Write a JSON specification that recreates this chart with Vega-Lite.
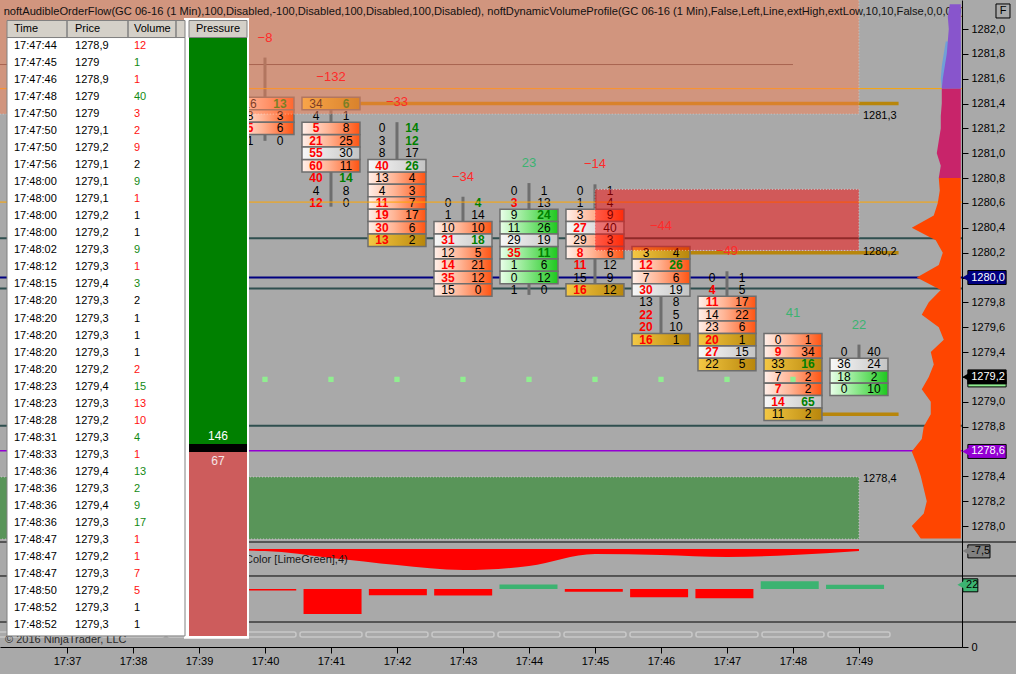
{
"$schema":"https://vega.github.io/schema/vega-lite/v6.json",
"width":962,"height":647,
"autosize":{"type":"none"},
"padding":{"left":0,"top":0,"right":54,"bottom":27},
"background":"#a9a9a9",
"config":{"view":{"stroke":null},"font":"Liberation Sans","text":{"font":"Liberation Sans"},"axis":{"grid":false,"labelFont":"Liberation Sans"}},
"datasets":{
"bars":[{"m":40,"hi":1281.77,"lo":1281.1,"d":-8},{"m":41,"hi":1281.45,"lo":1280.57,"d":-132},{"m":42,"hi":1281.25,"lo":1280.3,"d":-33},{"m":43,"hi":1280.65,"lo":1279.9,"d":-34},{"m":44,"hi":1280.76,"lo":1279.86,"d":23},{"m":45,"hi":1280.75,"lo":1279.9,"d":-14},{"m":46,"hi":1280.25,"lo":1279.5,"d":-44},{"m":47,"hi":1280.05,"lo":1279.3,"d":-49},{"m":48,"hi":1279.55,"lo":1278.9,"d":41},{"m":49,"hi":1279.46,"lo":1279.1,"d":22}],
"fp":[
{"m":40,"p":1281.4,"b":16,"a":13,"z":"sell","ai":1},{"m":40,"p":1281.3,"b":8,"a":3,"z":"sell"},{"m":40,"p":1281.2,"b":5,"a":6,"z":"sell","bi":1},{"m":40,"p":1281.1,"b":1,"a":0},
{"m":41,"p":1281.4,"b":34,"a":6,"z":"hl","ai":1},{"m":41,"p":1281.3,"b":4,"a":1},{"m":41,"p":1281.2,"b":5,"a":8,"z":"sell","bi":1},{"m":41,"p":1281.1,"b":21,"a":25,"z":"sell","bi":1},{"m":41,"p":1281.0,"b":55,"a":30,"z":"max","bi":1},{"m":41,"p":1280.9,"b":60,"a":11,"z":"sell","bi":1},{"m":41,"p":1280.8,"b":40,"a":14,"bi":1,"ai":1},{"m":41,"p":1280.7,"b":4,"a":8},{"m":41,"p":1280.6,"b":12,"a":0,"bi":1},
{"m":42,"p":1281.2,"b":0,"a":14,"ai":1},{"m":42,"p":1281.1,"b":3,"a":12,"ai":1},{"m":42,"p":1281.0,"b":8,"a":17},{"m":42,"p":1280.9,"b":40,"a":26,"z":"max","bi":1,"ai":1},{"m":42,"p":1280.8,"b":13,"a":4,"z":"sell"},{"m":42,"p":1280.7,"b":4,"a":3,"z":"sell"},{"m":42,"p":1280.6,"b":11,"a":7,"z":"sell","bi":1},{"m":42,"p":1280.5,"b":19,"a":17,"z":"sell","bi":1},{"m":42,"p":1280.4,"b":30,"a":6,"z":"sell","bi":1},{"m":42,"p":1280.3,"b":13,"a":2,"z":"hl","bi":1},
{"m":43,"p":1280.6,"b":0,"a":4,"ai":1},{"m":43,"p":1280.5,"b":1,"a":14},{"m":43,"p":1280.4,"b":10,"a":10,"z":"sell"},{"m":43,"p":1280.3,"b":31,"a":18,"z":"max","bi":1,"ai":1},{"m":43,"p":1280.2,"b":12,"a":5,"z":"sell"},{"m":43,"p":1280.1,"b":14,"a":21,"z":"sell","bi":1},{"m":43,"p":1280.0,"b":35,"a":12,"z":"sell","bi":1},{"m":43,"p":1279.9,"b":15,"a":0,"z":"sell"},
{"m":44,"p":1280.7,"b":0,"a":1},{"m":44,"p":1280.6,"b":3,"a":13,"bi":1},{"m":44,"p":1280.5,"b":9,"a":24,"z":"buy","ai":1},{"m":44,"p":1280.4,"b":11,"a":26,"z":"buy"},{"m":44,"p":1280.3,"b":29,"a":19,"z":"max"},{"m":44,"p":1280.2,"b":35,"a":11,"z":"buy","bi":1,"ai":1},{"m":44,"p":1280.1,"b":1,"a":6,"z":"buy"},{"m":44,"p":1280.0,"b":0,"a":12,"z":"buy"},{"m":44,"p":1279.9,"b":1,"a":0},
{"m":45,"p":1280.7,"b":0,"a":1},{"m":45,"p":1280.6,"b":1,"a":4},{"m":45,"p":1280.5,"b":3,"a":9,"z":"sell"},{"m":45,"p":1280.4,"b":27,"a":40,"z":"max","bi":1},{"m":45,"p":1280.3,"b":29,"a":3,"z":"sell"},{"m":45,"p":1280.2,"b":8,"a":6,"z":"sell","bi":1},{"m":45,"p":1280.1,"b":11,"a":12,"bi":1},{"m":45,"p":1280.0,"b":15,"a":9},{"m":45,"p":1279.9,"b":16,"a":12,"z":"hl","bi":1},
{"m":46,"p":1280.2,"b":3,"a":4,"z":"hl"},{"m":46,"p":1280.1,"b":12,"a":26,"z":"sell","bi":1,"ai":1},{"m":46,"p":1280.0,"b":7,"a":6,"z":"sell"},{"m":46,"p":1279.9,"b":30,"a":19,"z":"max","bi":1},{"m":46,"p":1279.8,"b":13,"a":8},{"m":46,"p":1279.7,"b":22,"a":5,"bi":1},{"m":46,"p":1279.6,"b":20,"a":10,"bi":1},{"m":46,"p":1279.5,"b":16,"a":1,"z":"hl","bi":1},
{"m":47,"p":1280.0,"b":0,"a":1},{"m":47,"p":1279.9,"b":4,"a":5,"bi":1},{"m":47,"p":1279.8,"b":11,"a":17,"z":"sell","bi":1},{"m":47,"p":1279.7,"b":14,"a":22,"z":"sell"},{"m":47,"p":1279.6,"b":23,"a":6,"z":"sell"},{"m":47,"p":1279.5,"b":20,"a":1,"z":"hl","bi":1},{"m":47,"p":1279.4,"b":27,"a":15,"z":"max","bi":1},{"m":47,"p":1279.3,"b":22,"a":5,"z":"hl"},
{"m":48,"p":1279.5,"b":0,"a":1,"z":"sell"},{"m":48,"p":1279.4,"b":9,"a":34,"z":"sell","bi":1},{"m":48,"p":1279.3,"b":33,"a":16,"z":"hl","ai":1},{"m":48,"p":1279.2,"b":7,"a":2,"z":"sell"},{"m":48,"p":1279.1,"b":7,"a":2,"z":"sell","bi":1},{"m":48,"p":1279.0,"b":14,"a":65,"z":"max","bi":1,"ai":1},{"m":48,"p":1278.9,"b":11,"a":2,"z":"hl"},
{"m":49,"p":1279.4,"b":0,"a":40},{"m":49,"p":1279.3,"b":36,"a":24,"z":"max"},{"m":49,"p":1279.2,"b":18,"a":2,"z":"buy"},{"m":49,"p":1279.1,"b":0,"a":10,"z":"buy"}],
"dots":[{"m":40,"p":1279.18},{"m":41,"p":1279.18},{"m":42,"p":1279.18},{"m":43,"p":1279.18},{"m":44,"p":1279.18},{"m":45,"p":1279.18},{"m":46,"p":1279.18},{"m":47,"p":1279.18},{"m":48,"p":1279.18}],
"zones":[{"z":"supply","from":35,"to":49,"lo":1281.315,"hi":1282.4,"edge":1281.315,"label":"1281,3"},{"z":"resistance","from":45,"to":49,"lo":1280.218,"hi":1280.71,"edge":1280.218,"label":"1280,2"},{"z":"demand","from":35,"to":49,"lo":1277.895,"hi":1278.395,"edge":1278.395,"label":"1278,4"}],
"tags":[{"p":1280.0,"label":"1280,0","k":"poc"},{"p":1279.2,"label":"1279,2","k":"last"},{"p":1278.6,"label":"1278,6","k":"low"}],
"prof":[
{"z":"ext","p":1281.9,"v":7.5},{"z":"ext","p":1281.8,"v":8.5},{"z":"ext","p":1281.7,"v":9.5},{"z":"ext","p":1281.6,"v":10},{"z":"ext","p":1281.52,"v":9.5},
{"z":"hi","p":1282.2,"v":5.5},{"z":"hi","p":1282.1,"v":6.5},{"z":"hi","p":1282.0,"v":6},{"z":"hi","p":1281.9,"v":6.5},{"z":"hi","p":1281.8,"v":7},{"z":"hi","p":1281.7,"v":8},{"z":"hi","p":1281.6,"v":9},{"z":"hi","p":1281.52,"v":9.5},
{"z":"va","p":1281.52,"v":9.5},{"z":"va","p":1281.4,"v":9.5},{"z":"va","p":1281.3,"v":10},{"z":"va","p":1281.2,"v":10},{"z":"va","p":1281.1,"v":11},{"z":"va","p":1281.0,"v":12},{"z":"va","p":1280.9,"v":10},{"z":"va","p":1280.8,"v":11},
{"z":"lo","p":1280.8,"v":11},{"z":"lo","p":1280.7,"v":10.5},{"z":"lo","p":1280.6,"v":11.5},{"z":"lo","p":1280.5,"v":13.5},{"z":"lo","p":1280.4,"v":24.5},{"z":"lo","p":1280.3,"v":12.5},{"z":"lo","p":1280.2,"v":9},{"z":"lo","p":1280.1,"v":11},{"z":"lo","p":1280.0,"v":22},{"z":"lo","p":1279.9,"v":10},{"z":"lo","p":1279.8,"v":16},{"z":"lo","p":1279.7,"v":19.5},{"z":"lo","p":1279.6,"v":11},{"z":"lo","p":1279.5,"v":8.5},{"z":"lo","p":1279.4,"v":15},{"z":"lo","p":1279.3,"v":13.5},{"z":"lo","p":1279.2,"v":16},{"z":"lo","p":1279.1,"v":19.5},{"z":"lo","p":1279.0,"v":15},{"z":"lo","p":1278.9,"v":15},{"z":"lo","p":1278.8,"v":18.5},{"z":"lo","p":1278.7,"v":19.5},{"z":"lo","p":1278.6,"v":24.5},{"z":"lo","p":1278.5,"v":22},{"z":"lo","p":1278.4,"v":20},{"z":"lo","p":1278.3,"v":18.5},{"z":"lo","p":1278.2,"v":17},{"z":"lo","p":1278.1,"v":18.5},{"z":"lo","p":1278.0,"v":24.5},{"z":"lo","p":1277.9,"v":20}],
"smooth":[{"m":39,"sd":-4},{"m":40,"sd":-8},{"m":41,"sd":-36},{"m":42,"sd":-64},{"m":43,"sd":-84},{"m":44,"sd":-68},{"m":45,"sd":-20},{"m":46,"sd":-24},{"m":47,"sd":-32},{"m":48,"sd":-24},{"m":49,"sd":-7.5}],
"slots":[{"m":36},{"m":37},{"m":38},{"m":39},{"m":40},{"m":41},{"m":42},{"m":43},{"m":44},{"m":45},{"m":46},{"m":47},{"m":48},{"m":49}],
"tape":[
{"t":"17:47:44","p":"1278,9","v":12,"s":"sell"},{"t":"17:47:45","p":"1279","v":1,"s":"buy"},{"t":"17:47:46","p":"1278,9","v":1,"s":"sell"},{"t":"17:47:48","p":"1279","v":40,"s":"buy"},{"t":"17:47:50","p":"1279","v":3,"s":"sell"},{"t":"17:47:50","p":"1279,1","v":2,"s":"sell"},{"t":"17:47:50","p":"1279,2","v":9,"s":"sell"},{"t":"17:47:56","p":"1279,1","v":2,"s":"mid"},{"t":"17:48:00","p":"1279,1","v":9,"s":"buy"},{"t":"17:48:00","p":"1279,1","v":1,"s":"sell"},{"t":"17:48:00","p":"1279,2","v":1,"s":"mid"},{"t":"17:48:00","p":"1279,2","v":1,"s":"mid"},{"t":"17:48:02","p":"1279,3","v":9,"s":"buy"},{"t":"17:48:12","p":"1279,3","v":1,"s":"sell"},{"t":"17:48:15","p":"1279,4","v":3,"s":"buy"},{"t":"17:48:20","p":"1279,3","v":2,"s":"mid"},{"t":"17:48:20","p":"1279,3","v":1,"s":"mid"},{"t":"17:48:20","p":"1279,3","v":1,"s":"mid"},{"t":"17:48:20","p":"1279,3","v":1,"s":"mid"},{"t":"17:48:20","p":"1279,2","v":2,"s":"sell"},{"t":"17:48:23","p":"1279,4","v":15,"s":"buy"},{"t":"17:48:23","p":"1279,3","v":13,"s":"sell"},{"t":"17:48:28","p":"1279,2","v":10,"s":"sell"},{"t":"17:48:31","p":"1279,3","v":4,"s":"buy"},{"t":"17:48:33","p":"1279,3","v":1,"s":"sell"},{"t":"17:48:36","p":"1279,4","v":13,"s":"buy"},{"t":"17:48:36","p":"1279,3","v":2,"s":"buy"},{"t":"17:48:36","p":"1279,4","v":9,"s":"buy"},{"t":"17:48:36","p":"1279,3","v":17,"s":"buy"},{"t":"17:48:47","p":"1279,3","v":1,"s":"sell"},{"t":"17:48:47","p":"1279,2","v":1,"s":"sell"},{"t":"17:48:47","p":"1279,3","v":7,"s":"sell"},{"t":"17:48:50","p":"1279,2","v":5,"s":"sell"},{"t":"17:48:52","p":"1279,3","v":1,"s":"mid"},{"t":"17:48:52","p":"1279,3","v":1,"s":"mid"}],
"press":[{"side":"Buy","v":146},{"side":"Sell","v":67}]
},
"resolve":{"scale":{"x":"independent","y":"independent"}},
"layer":[
{"layer":[
 {"data":{"values":[{"p":1280.315},{"p":1279.911},{"p":1278.806}]},"mark":{"type":"rule","stroke":"#2f4f4f","strokeWidth":2,"clip":true},
  "encoding":{"x":{"datum":35.9,"type":"quantitative","scale":{"domain":[35.985,50.561],"nice":false,"zero":false},"axis":null},"x2":{"datum":50.7},"y":{"field":"p","type":"quantitative","scale":{"domain":[1277.0262,1282.2334],"nice":false,"zero":false},"axis":null}}},
 {"data":{"values":[{"p":1280.0}]},"mark":{"type":"rule","stroke":"#000080","strokeWidth":2,"clip":true},
  "encoding":{"x":{"datum":35.9,"type":"quantitative","scale":{"domain":[35.985,50.561],"nice":false,"zero":false},"axis":null},"x2":{"datum":50.7},"y":{"field":"p","type":"quantitative","scale":{"domain":[1277.0262,1282.2334],"nice":false,"zero":false},"axis":null}}},
 {"data":{"values":[{"p":1278.605}]},"mark":{"type":"rule","stroke":"#9400d3","strokeWidth":1.5,"clip":true},
  "encoding":{"x":{"datum":35.9,"type":"quantitative","scale":{"domain":[35.985,50.561],"nice":false,"zero":false},"axis":null},"x2":{"datum":50.7},"y":{"field":"p","type":"quantitative","scale":{"domain":[1277.0262,1282.2334],"nice":false,"zero":false},"axis":null}}},
 {"data":{"values":[{"p":1281.714,"end":48}]},"mark":{"type":"rule","stroke":"#5a4c50","strokeWidth":1,"clip":true},
  "encoding":{"x":{"field":"end","type":"quantitative","scale":{"domain":[35.985,50.561],"nice":false,"zero":false},"axis":null},"x2":{"datum":35.9},"y":{"field":"p","type":"quantitative","scale":{"domain":[1277.0262,1282.2334],"nice":false,"zero":false},"axis":null}}},
 {"data":{"values":[{"p":1281.4,"m":41},{"p":1280.2,"m":46},{"p":1278.9,"m":48}]},"mark":{"type":"rule","stroke":"#b8860b","strokeWidth":3.5},
  "encoding":{"x":{"field":"m","type":"quantitative","scale":{"domain":[35.985,50.561],"nice":false,"zero":false},"axis":null},"x2":{"datum":49.6},"y":{"field":"p","type":"quantitative","scale":{"domain":[1277.0262,1282.2334],"nice":false,"zero":false},"axis":null}}}
]},
{"data":{"name":"bars"},"mark":{"type":"rule","stroke":"#6e6e6e","strokeWidth":3},
 "encoding":{"x":{"field":"m","type":"quantitative","scale":{"domain":[35.985,50.561],"nice":false,"zero":false},"axis":{"orient":"bottom","values":[37,38,39,40,41,42,43,44,45,46,47,48,49],"labelExpr":"'17:' + datum.value","title":null,"grid":false,"domainColor":"#000000","tickColor":"#000000","tickSize":6,"labelColor":"#000000","labelFontSize":11,"labelPadding":2,"labelFlush":false,"labelOverlap":false}},
  "y":{"field":"hi","type":"quantitative","scale":{"domain":[1277.0262,1282.2334],"nice":false,"zero":false},"axis":{"orient":"right","values":[1278,1278.2,1278.4,1278.6,1278.8,1279,1279.2,1279.4,1279.6,1279.8,1280,1280.2,1280.4,1280.6,1280.8,1281,1281.2,1281.4,1281.6,1281.8,1282],"labelExpr":"replace(format(datum.value, '.1f'), '.', ',')","title":null,"grid":false,"domainColor":"#000000","tickColor":"#000000","tickSize":6,"labelColor":"#000000","labelFontSize":11,"labelPadding":3,"labelFlush":false,"labelOverlap":false}},
  "y2":{"field":"lo"}}},
{"layer":[
 {"data":{"name":"fp"},"transform":[{"filter":"datum.z == 'sell'"}],"mark":{"type":"rect","xOffset":-29,"x2Offset":29,"yOffset":-6.2,"y2Offset":6.2,"stroke":"#6e6e6e","strokeWidth":1.5,"fill":{"gradient":"linear","stops":[{"offset":0,"color":"#fff0ea"},{"offset":0.45,"color":"#ffb596"},{"offset":1,"color":"#ff5412"}]}},
  "encoding":{"x":{"field":"m","type":"quantitative","scale":{"domain":[35.985,50.561],"nice":false,"zero":false},"axis":null},"x2":{"field":"m"},"y":{"field":"p","type":"quantitative","scale":{"domain":[1277.0262,1282.2334],"nice":false,"zero":false},"axis":null},"y2":{"field":"p"}}},
 {"data":{"name":"fp"},"transform":[{"filter":"datum.z == 'buy'"}],"mark":{"type":"rect","xOffset":-29,"x2Offset":29,"yOffset":-6.2,"y2Offset":6.2,"stroke":"#6e6e6e","strokeWidth":1.5,"fill":{"gradient":"linear","stops":[{"offset":0,"color":"#eaffea"},{"offset":0.45,"color":"#8ee88e"},{"offset":1,"color":"#1ec81e"}]}},
  "encoding":{"x":{"field":"m","type":"quantitative","scale":{"domain":[35.985,50.561],"nice":false,"zero":false},"axis":null},"x2":{"field":"m"},"y":{"field":"p","type":"quantitative","scale":{"domain":[1277.0262,1282.2334],"nice":false,"zero":false},"axis":null},"y2":{"field":"p"}}},
 {"data":{"name":"fp"},"transform":[{"filter":"datum.z == 'max'"}],"mark":{"type":"rect","xOffset":-29,"x2Offset":29,"yOffset":-6.2,"y2Offset":6.2,"stroke":"#6e6e6e","strokeWidth":1.5,"fill":{"gradient":"linear","stops":[{"offset":0,"color":"#f8f8f8"},{"offset":1,"color":"#c4c4c4"}]}},
  "encoding":{"x":{"field":"m","type":"quantitative","scale":{"domain":[35.985,50.561],"nice":false,"zero":false},"axis":null},"x2":{"field":"m"},"y":{"field":"p","type":"quantitative","scale":{"domain":[1277.0262,1282.2334],"nice":false,"zero":false},"axis":null},"y2":{"field":"p"}}},
 {"data":{"name":"fp"},"transform":[{"filter":"datum.z == 'hl'"}],"mark":{"type":"rect","xOffset":-29,"x2Offset":29,"yOffset":-6.2,"y2Offset":6.2,"stroke":"#6e6e6e","strokeWidth":1.5,"fill":{"gradient":"linear","stops":[{"offset":0,"color":"#f4c844"},{"offset":1,"color":"#b8860b"}]}},
  "encoding":{"x":{"field":"m","type":"quantitative","scale":{"domain":[35.985,50.561],"nice":false,"zero":false},"axis":null},"x2":{"field":"m"},"y":{"field":"p","type":"quantitative","scale":{"domain":[1277.0262,1282.2334],"nice":false,"zero":false},"axis":null},"y2":{"field":"p"}}},
 {"data":{"name":"fp"},"transform":[{"filter":"!datum.bi"}],"mark":{"type":"text","dx":-15,"fontSize":12,"color":"#000000","align":"center","baseline":"middle"},
  "encoding":{"x":{"field":"m","type":"quantitative","scale":{"domain":[35.985,50.561],"nice":false,"zero":false},"axis":null},"y":{"field":"p","type":"quantitative","scale":{"domain":[1277.0262,1282.2334],"nice":false,"zero":false},"axis":null},"text":{"field":"b","type":"quantitative"}}},
 {"data":{"name":"fp"},"transform":[{"filter":"datum.bi"}],"mark":{"type":"text","dx":-15,"fontSize":12,"fontWeight":"bold","color":"#ff0000","align":"center","baseline":"middle"},
  "encoding":{"x":{"field":"m","type":"quantitative","scale":{"domain":[35.985,50.561],"nice":false,"zero":false},"axis":null},"y":{"field":"p","type":"quantitative","scale":{"domain":[1277.0262,1282.2334],"nice":false,"zero":false},"axis":null},"text":{"field":"b","type":"quantitative"}}},
 {"data":{"name":"fp"},"transform":[{"filter":"!datum.ai"}],"mark":{"type":"text","dx":15,"fontSize":12,"color":"#000000","align":"center","baseline":"middle"},
  "encoding":{"x":{"field":"m","type":"quantitative","scale":{"domain":[35.985,50.561],"nice":false,"zero":false},"axis":null},"y":{"field":"p","type":"quantitative","scale":{"domain":[1277.0262,1282.2334],"nice":false,"zero":false},"axis":null},"text":{"field":"a","type":"quantitative"}}},
 {"data":{"name":"fp"},"transform":[{"filter":"datum.ai"}],"mark":{"type":"text","dx":15,"fontSize":12,"fontWeight":"bold","color":"#008000","align":"center","baseline":"middle"},
  "encoding":{"x":{"field":"m","type":"quantitative","scale":{"domain":[35.985,50.561],"nice":false,"zero":false},"axis":null},"y":{"field":"p","type":"quantitative","scale":{"domain":[1277.0262,1282.2334],"nice":false,"zero":false},"axis":null},"text":{"field":"a","type":"quantitative"}}},
 {"data":{"values":[{"p":1281.52},{"p":1280.607}]},"mark":{"type":"rule","stroke":"#ffa500","strokeWidth":1,"clip":true},
  "encoding":{"x":{"datum":35.9,"type":"quantitative","scale":{"domain":[35.985,50.561],"nice":false,"zero":false},"axis":null},"x2":{"datum":50.7},"y":{"field":"p","type":"quantitative","scale":{"domain":[1277.0262,1282.2334],"nice":false,"zero":false},"axis":null}}},
 {"data":{"name":"dots"},"mark":{"type":"square","size":28,"color":"#90ee90","opacity":1},
  "encoding":{"x":{"field":"m","type":"quantitative","scale":{"domain":[35.985,50.561],"nice":false,"zero":false},"axis":null},"y":{"field":"p","type":"quantitative","scale":{"domain":[1277.0262,1282.2334],"nice":false,"zero":false},"axis":null}}},
 {"data":{"name":"zones"},"mark":{"type":"rect","clip":true,"opacity":0.47,"stroke":"#f0f0f0","strokeDash":[1,2],"strokeWidth":1},
  "encoding":{"x":{"field":"from","type":"quantitative","scale":{"domain":[35.985,50.561],"nice":false,"zero":false},"axis":null},"x2":{"field":"to"},"y":{"field":"lo","type":"quantitative","scale":{"domain":[1277.0262,1282.2334],"nice":false,"zero":false},"axis":null},"y2":{"field":"hi"},
   "fill":{"condition":[{"test":"datum.z == 'supply'","value":"#ff7f50"},{"test":"datum.z == 'resistance'","value":"#ff0000"}],"value":"#008000"}}},
 {"data":{"name":"bars"},"mark":{"type":"text","dy":-20,"fontSize":13,"align":"center","baseline":"middle"},
  "encoding":{"x":{"field":"m","type":"quantitative","scale":{"domain":[35.985,50.561],"nice":false,"zero":false},"axis":null},"y":{"field":"hi","type":"quantitative","scale":{"domain":[1277.0262,1282.2334],"nice":false,"zero":false},"axis":null},"text":{"field":"d","type":"quantitative"},
   "color":{"condition":{"test":"datum.d < 0","value":"#ff2a2a"},"value":"#3cb371"}}},
 {"data":{"name":"zones"},"mark":{"type":"text","dx":4,"dy":2,"fontSize":11,"align":"left","baseline":"middle","color":"#000000"},
  "encoding":{"x":{"field":"to","type":"quantitative","scale":{"domain":[35.985,50.561],"nice":false,"zero":false},"axis":null},"y":{"field":"edge","type":"quantitative","scale":{"domain":[1277.0262,1282.2334],"nice":false,"zero":false},"axis":null},"text":{"field":"label","type":"nominal"}}},
 {"data":{"values":[{}]},"mark":{"type":"text","text":"noftAudibleOrderFlow(GC 06-16 (1 Min),100,Disabled,-100,Disabled,100,Disabled,100,Disabled), noftDynamicVolumeProfile(GC 06-16 (1 Min),False,Left,Line,extHigh,extLow,10,10,False,0,0,0,0)","fontSize":11.15,"align":"left","baseline":"middle","color":"#111111","clip":true},
  "encoding":{"x":{"datum":36.04,"type":"quantitative","scale":{"domain":[35.985,50.561],"nice":false,"zero":false},"axis":null},"y":{"datum":1282.137,"type":"quantitative","scale":{"domain":[1277.0262,1282.2334],"nice":false,"zero":false},"axis":null}}},
 {"data":{"name":"tags"},"transform":[{"filter":"datum.k == 'last'"}],"mark":{"type":"rect","yOffset":-3,"y2Offset":10,"fill":"#90ee90","stroke":"#000000","strokeWidth":1},
  "encoding":{"x":{"datum":50.65,"type":"quantitative","scale":{"domain":[35.985,50.561],"nice":false,"zero":false},"axis":null},"x2":{"datum":51.23},"y":{"field":"p","type":"quantitative","scale":{"domain":[1277.0262,1282.2334],"nice":false,"zero":false},"axis":null},"y2":{"field":"p"}}},
 {"data":{"name":"tags"},"mark":{"type":"rect","yOffset":-7,"y2Offset":7,"stroke":"#000000","strokeWidth":1},
  "encoding":{"x":{"datum":50.65,"type":"quantitative","scale":{"domain":[35.985,50.561],"nice":false,"zero":false},"axis":null},"x2":{"datum":51.23},"y":{"field":"p","type":"quantitative","scale":{"domain":[1277.0262,1282.2334],"nice":false,"zero":false},"axis":null},"y2":{"field":"p"},
   "fill":{"condition":[{"test":"datum.k == 'poc'","value":"#000080"},{"test":"datum.k == 'low'","value":"#9400d3"}],"value":"#000000"}}},
 {"data":{"name":"tags"},"mark":{"type":"point","shape":"triangle-left","size":90,"filled":true,"opacity":1},
  "encoding":{"x":{"datum":50.627,"type":"quantitative","scale":{"domain":[35.985,50.561],"nice":false,"zero":false},"axis":null},"y":{"field":"p","type":"quantitative","scale":{"domain":[1277.0262,1282.2334],"nice":false,"zero":false},"axis":null},
   "color":{"condition":[{"test":"datum.k == 'poc'","value":"#000080"},{"test":"datum.k == 'low'","value":"#9400d3"}],"value":"#000000"}}},
 {"data":{"name":"tags"},"mark":{"type":"text","fontSize":11,"align":"left","baseline":"middle","color":"#ffffff"},
  "encoding":{"x":{"datum":50.7,"type":"quantitative","scale":{"domain":[35.985,50.561],"nice":false,"zero":false},"axis":null},"y":{"field":"p","type":"quantitative","scale":{"domain":[1277.0262,1282.2334],"nice":false,"zero":false},"axis":null},"text":{"field":"label","type":"nominal"}}},
 {"data":{"values":[{}]},"mark":{"type":"square","size":196,"filled":false,"stroke":"#000000","strokeWidth":1,"opacity":1},
  "encoding":{"x":{"datum":51.182,"type":"quantitative","scale":{"domain":[35.985,50.561],"nice":false,"zero":false},"axis":null},"y":{"datum":1282.145,"type":"quantitative","scale":{"domain":[1277.0262,1282.2334],"nice":false,"zero":false},"axis":null}}},
 {"data":{"values":[{}]},"mark":{"type":"text","text":"F","fontSize":11,"align":"center","baseline":"middle","color":"#000000"},
  "encoding":{"x":{"datum":51.182,"type":"quantitative","scale":{"domain":[35.985,50.561],"nice":false,"zero":false},"axis":null},"y":{"datum":1282.145,"type":"quantitative","scale":{"domain":[1277.0262,1282.2334],"nice":false,"zero":false},"axis":null}}}
]},
{"layer":[
 {"data":{"name":"prof"},"transform":[{"filter":"datum.z == 'ext'"}],"mark":{"type":"area","orient":"horizontal","color":"#6fa0d8","opacity":1},
  "encoding":{"y":{"field":"p","type":"quantitative","scale":{"domain":[1277.0262,1282.2334],"nice":false,"zero":false},"axis":null},"x":{"field":"v","type":"quantitative","stack":null,"scale":{"domain":[-0.6,480],"reverse":true,"nice":false,"zero":false},"axis":null},"x2":{"datum":0}}},
 {"data":{"name":"prof"},"transform":[{"filter":"datum.z == 'hi'"}],"mark":{"type":"area","orient":"horizontal","color":"#8855cc","opacity":1},
  "encoding":{"y":{"field":"p","type":"quantitative","scale":{"domain":[1277.0262,1282.2334],"nice":false,"zero":false},"axis":null},"x":{"field":"v","type":"quantitative","stack":null,"scale":{"domain":[-0.6,480],"reverse":true,"nice":false,"zero":false},"axis":null},"x2":{"datum":0}}},
 {"data":{"name":"prof"},"transform":[{"filter":"datum.z == 'va'"}],"mark":{"type":"area","orient":"horizontal","color":"#c8246a","opacity":1},
  "encoding":{"y":{"field":"p","type":"quantitative","scale":{"domain":[1277.0262,1282.2334],"nice":false,"zero":false},"axis":null},"x":{"field":"v","type":"quantitative","stack":null,"scale":{"domain":[-0.6,480],"reverse":true,"nice":false,"zero":false},"axis":null},"x2":{"datum":0}}},
 {"data":{"name":"prof"},"transform":[{"filter":"datum.z == 'lo'"}],"mark":{"type":"area","orient":"horizontal","color":"#ff4500","opacity":1},
  "encoding":{"y":{"field":"p","type":"quantitative","scale":{"domain":[1277.0262,1282.2334],"nice":false,"zero":false},"axis":null},"x":{"field":"v","type":"quantitative","stack":null,"scale":{"domain":[-0.6,480],"reverse":true,"nice":false,"zero":false},"axis":null},"x2":{"datum":0}}}
]},
{"layer":[
 {"data":{"values":[{}]},"mark":{"type":"rule","stroke":"#000000","strokeWidth":1},
  "encoding":{"x":{"datum":35.9,"type":"quantitative","scale":{"domain":[35.985,50.561],"nice":false,"zero":false},"axis":null},"x2":{"datum":51.5},"y":{"datum":28,"type":"quantitative","scale":{"domain":[-392,2196],"nice":false,"zero":false},"axis":null}}},
 {"data":{"name":"smooth"},"mark":{"type":"area","orient":"vertical","interpolate":"monotone","color":"#ff0000","opacity":1},
  "encoding":{"x":{"field":"m","type":"quantitative","scale":{"domain":[35.985,50.561],"nice":false,"zero":false},"axis":null},"y":{"field":"sd","type":"quantitative","stack":null,"scale":{"domain":[-392,2196],"nice":false,"zero":false},"axis":null},"y2":{"datum":0}}},
 {"data":{"values":[{}]},"mark":{"type":"text","text":"Color [LimeGreen],4)","fontSize":11,"align":"left","baseline":"middle","color":"#1a1a1a"},
  "encoding":{"x":{"datum":39.697,"type":"quantitative","scale":{"domain":[35.985,50.561],"nice":false,"zero":false},"axis":null},"y":{"datum":-44,"type":"quantitative","scale":{"domain":[-392,2196],"nice":false,"zero":false},"axis":null}}},
 {"data":{"values":[{"v":-7.5,"label":"-7,5"}]},"mark":{"type":"rect","yOffset":-6,"y2Offset":7,"fill":"#808080","stroke":"#000000","strokeWidth":1},
  "encoding":{"x":{"datum":50.65,"type":"quantitative","scale":{"domain":[35.985,50.561],"nice":false,"zero":false},"axis":null},"x2":{"datum":50.985},"y":{"field":"v","type":"quantitative","scale":{"domain":[-392,2196],"nice":false,"zero":false},"axis":null},"y2":{"field":"v"}}},
 {"data":{"values":[{"v":-7.5,"label":"-7,5"}]},"mark":{"type":"point","shape":"triangle-left","size":80,"filled":true,"color":"#808080","opacity":1},
  "encoding":{"x":{"datum":50.627,"type":"quantitative","scale":{"domain":[35.985,50.561],"nice":false,"zero":false},"axis":null},"y":{"field":"v","type":"quantitative","scale":{"domain":[-392,2196],"nice":false,"zero":false},"axis":null}}},
 {"data":{"values":[{"v":-7.5,"label":"-7,5"}]},"mark":{"type":"text","fontSize":11,"align":"left","baseline":"middle","color":"#000000"},
  "encoding":{"x":{"datum":50.7,"type":"quantitative","scale":{"domain":[35.985,50.561],"nice":false,"zero":false},"axis":null},"y":{"field":"v","type":"quantitative","scale":{"domain":[-392,2196],"nice":false,"zero":false},"axis":null},"text":{"field":"label","type":"nominal"}}}
]},
{"layer":[
 {"data":{"values":[{}]},"mark":{"type":"rule","stroke":"#000000","strokeWidth":1},
  "encoding":{"x":{"datum":35.9,"type":"quantitative","scale":{"domain":[35.985,50.561],"nice":false,"zero":false},"axis":null},"x2":{"datum":51.5},"y":{"datum":68.4,"type":"quantitative","scale":{"domain":[-305.3,3100],"nice":false,"zero":false},"axis":null}}},
 {"data":{"name":"bars"},"mark":{"type":"bar","width":58},
  "encoding":{"x":{"field":"m","type":"quantitative","scale":{"domain":[35.985,50.561],"nice":false,"zero":false},"axis":null},"y":{"field":"d","type":"quantitative","stack":null,"scale":{"domain":[-305.3,3100],"nice":false,"zero":false},"axis":null},"y2":{"datum":0},
   "color":{"condition":{"test":"datum.d < 0","value":"#ff0000"},"value":"#3cb371"}}},
 {"data":{"values":[{"v":22,"label":"22"}]},"mark":{"type":"rect","yOffset":-6,"y2Offset":7,"fill":"#3cb371","stroke":"#000000","strokeWidth":1},
  "encoding":{"x":{"datum":50.65,"type":"quantitative","scale":{"domain":[35.985,50.561],"nice":false,"zero":false},"axis":null},"x2":{"datum":50.88},"y":{"field":"v","type":"quantitative","scale":{"domain":[-305.3,3100],"nice":false,"zero":false},"axis":null},"y2":{"field":"v"}}},
 {"data":{"values":[{"v":22,"label":"22"}]},"mark":{"type":"point","shape":"triangle-left","size":80,"filled":true,"color":"#3cb371","opacity":1},
  "encoding":{"x":{"datum":50.627,"type":"quantitative","scale":{"domain":[35.985,50.561],"nice":false,"zero":false},"axis":null},"y":{"field":"v","type":"quantitative","scale":{"domain":[-305.3,3100],"nice":false,"zero":false},"axis":null}}},
 {"data":{"values":[{"v":22,"label":"22"}]},"mark":{"type":"text","fontSize":11,"align":"left","baseline":"middle","color":"#000000"},
  "encoding":{"x":{"datum":50.7,"type":"quantitative","scale":{"domain":[35.985,50.561],"nice":false,"zero":false},"axis":null},"y":{"field":"v","type":"quantitative","scale":{"domain":[-305.3,3100],"nice":false,"zero":false},"axis":null},"text":{"field":"label","type":"nominal"}}}
]},
{"data":{"values":[{}]},"mark":{"type":"rule","stroke":"#000000","strokeWidth":1},
 "encoding":{"x":{"datum":35.9,"type":"quantitative","scale":{"domain":[35.985,50.561],"nice":false,"zero":false},"axis":null},"x2":{"datum":51.5},"y":{"datum":10,"type":"quantitative","scale":{"domain":[0,258.8],"nice":false,"zero":false},"axis":{"orient":"right","values":[0],"domain":false,"title":null,"grid":false,"tickColor":"#000000","tickSize":6,"labelColor":"#000000","labelFontSize":11,"labelPadding":3}}}},
{"layer":[
 {"data":{"name":"slots"},"mark":{"type":"rect","xOffset":-31,"x2Offset":31,"cornerRadius":2,"fillOpacity":0,"stroke":"#c8c8c8","strokeWidth":1.5},
  "encoding":{"x":{"field":"m","type":"quantitative","scale":{"domain":[35.985,50.561],"nice":false,"zero":false},"axis":null},"x2":{"field":"m"},"y":{"datum":6,"type":"quantitative","scale":{"domain":[0,258.8],"nice":false,"zero":false},"axis":null},"y2":{"datum":4}}},
 {"data":{"values":[{}]},"mark":{"type":"text","text":"© 2016 NinjaTrader, LLC","fontSize":11,"align":"left","baseline":"middle","color":"#2a2a2a"},
  "encoding":{"x":{"datum":36.061,"type":"quantitative","scale":{"domain":[35.985,50.561],"nice":false,"zero":false},"axis":null},"y":{"datum":2.8,"type":"quantitative","scale":{"domain":[0,258.8],"nice":false,"zero":false},"axis":null}}}
]},
{"layer":[
 {"data":{"values":[{}]},"mark":{"type":"rect","fill":"#ffffff"},
  "encoding":{"x":{"datum":73.44,"type":"quantitative","scale":{"domain":[-2.905,396.27],"nice":false,"zero":false},"axis":null},"x2":{"datum":100.41},"y":{"datum":-0.65,"type":"quantitative","scale":{"domain":[-1.703,36.289],"reverse":true,"nice":false,"zero":false},"axis":null},"y2":{"datum":35.8}}},
 {"data":{"values":[{}]},"mark":{"type":"rect","fill":"#ffffff","stroke":"#808080","strokeWidth":1},
  "encoding":{"x":{"datum":0,"type":"quantitative","scale":{"domain":[-2.905,396.27],"nice":false,"zero":false},"axis":null},"x2":{"datum":73.86},"y":{"datum":0.5,"type":"quantitative","scale":{"domain":[-1.703,36.289],"reverse":true,"nice":false,"zero":false},"axis":null},"y2":{"datum":35.64}}},
 {"data":{"values":[{}]},"mark":{"type":"rect","fill":"#d4d0c8","stroke":"#808080","strokeWidth":1},
  "encoding":{"x":{"datum":0,"type":"quantitative","scale":{"domain":[-2.905,396.27],"nice":false,"zero":false},"axis":null},"x2":{"datum":73.86},"y":{"datum":-0.5,"type":"quantitative","scale":{"domain":[-1.703,36.289],"reverse":true,"nice":false,"zero":false},"axis":null},"y2":{"datum":0.5}}},
 {"data":{"values":[{}]},"mark":{"type":"rect","fill":"#d4d0c8","stroke":"#808080","strokeWidth":1},
  "encoding":{"x":{"datum":75.52,"type":"quantitative","scale":{"domain":[-2.905,396.27],"nice":false,"zero":false},"axis":null},"x2":{"datum":99.59},"y":{"datum":-0.5,"type":"quantitative","scale":{"domain":[-1.703,36.289],"reverse":true,"nice":false,"zero":false},"axis":null},"y2":{"datum":0.5}}},
 {"data":{"values":[{}]},"mark":{"type":"rule","stroke":"#808080","strokeWidth":1.5},
  "encoding":{"x":{"datum":24.9,"type":"quantitative","scale":{"domain":[-2.905,396.27],"nice":false,"zero":false},"axis":null},"y":{"datum":-0.5,"type":"quantitative","scale":{"domain":[-1.703,36.289],"reverse":true,"nice":false,"zero":false},"axis":null},"y2":{"datum":0.5}}},
 {"data":{"values":[{}]},"mark":{"type":"rule","stroke":"#808080","strokeWidth":1.5},
  "encoding":{"x":{"datum":50.21,"type":"quantitative","scale":{"domain":[-2.905,396.27],"nice":false,"zero":false},"axis":null},"y":{"datum":-0.5,"type":"quantitative","scale":{"domain":[-1.703,36.289],"reverse":true,"nice":false,"zero":false},"axis":null},"y2":{"datum":0.5}}},
 {"data":{"values":[{}]},"mark":{"type":"rule","stroke":"#808080","strokeWidth":1.5},
  "encoding":{"x":{"datum":70.12,"type":"quantitative","scale":{"domain":[-2.905,396.27],"nice":false,"zero":false},"axis":null},"y":{"datum":-0.5,"type":"quantitative","scale":{"domain":[-1.703,36.289],"reverse":true,"nice":false,"zero":false},"axis":null},"y2":{"datum":0.5}}},
 {"data":{"values":[{}]},"mark":{"type":"text","text":"Time","fontSize":11,"align":"left","baseline":"middle","color":"#000000"},
  "encoding":{"x":{"datum":2.9,"type":"quantitative","scale":{"domain":[-2.905,396.27],"nice":false,"zero":false},"axis":null},"y":{"datum":0,"type":"quantitative","scale":{"domain":[-1.703,36.289],"reverse":true,"nice":false,"zero":false},"axis":null}}},
 {"data":{"values":[{}]},"mark":{"type":"text","text":"Price","fontSize":11,"align":"left","baseline":"middle","color":"#000000"},
  "encoding":{"x":{"datum":28.22,"type":"quantitative","scale":{"domain":[-2.905,396.27],"nice":false,"zero":false},"axis":null},"y":{"datum":0,"type":"quantitative","scale":{"domain":[-1.703,36.289],"reverse":true,"nice":false,"zero":false},"axis":null}}},
 {"data":{"values":[{}]},"mark":{"type":"text","text":"Volume","fontSize":11,"align":"left","baseline":"middle","color":"#000000"},
  "encoding":{"x":{"datum":52.7,"type":"quantitative","scale":{"domain":[-2.905,396.27],"nice":false,"zero":false},"axis":null},"y":{"datum":0,"type":"quantitative","scale":{"domain":[-1.703,36.289],"reverse":true,"nice":false,"zero":false},"axis":null}}},
 {"data":{"values":[{}]},"mark":{"type":"text","text":"Pressure","fontSize":11,"align":"center","baseline":"middle","color":"#000000"},
  "encoding":{"x":{"datum":87.55,"type":"quantitative","scale":{"domain":[-2.905,396.27],"nice":false,"zero":false},"axis":null},"y":{"datum":0,"type":"quantitative","scale":{"domain":[-1.703,36.289],"reverse":true,"nice":false,"zero":false},"axis":null}}},
 {"data":{"name":"tape"},"transform":[{"window":[{"op":"row_number","as":"i"}]}],"mark":{"type":"text","fontSize":11,"align":"left","baseline":"middle","color":"#000000"},
  "encoding":{"x":{"datum":2.9,"type":"quantitative","scale":{"domain":[-2.905,396.27],"nice":false,"zero":false},"axis":null},"y":{"field":"i","type":"quantitative","scale":{"domain":[-1.703,36.289],"reverse":true,"nice":false,"zero":false},"axis":null},"text":{"field":"t","type":"nominal"}}},
 {"data":{"name":"tape"},"transform":[{"window":[{"op":"row_number","as":"i"}]}],"mark":{"type":"text","fontSize":11,"align":"left","baseline":"middle","color":"#000000"},
  "encoding":{"x":{"datum":28.22,"type":"quantitative","scale":{"domain":[-2.905,396.27],"nice":false,"zero":false},"axis":null},"y":{"field":"i","type":"quantitative","scale":{"domain":[-1.703,36.289],"reverse":true,"nice":false,"zero":false},"axis":null},"text":{"field":"p","type":"nominal"}}},
 {"data":{"name":"tape"},"transform":[{"window":[{"op":"row_number","as":"i"}]}],"mark":{"type":"text","fontSize":11,"align":"left","baseline":"middle"},
  "encoding":{"x":{"datum":52.7,"type":"quantitative","scale":{"domain":[-2.905,396.27],"nice":false,"zero":false},"axis":null},"y":{"field":"i","type":"quantitative","scale":{"domain":[-1.703,36.289],"reverse":true,"nice":false,"zero":false},"axis":null},"text":{"field":"v","type":"quantitative"},
   "color":{"condition":[{"test":"datum.s == 'sell'","value":"#ff1010"},{"test":"datum.s == 'buy'","value":"#138a13"}],"value":"#000000"}}}
]},
{"layer":[
 {"data":{"name":"press"},"transform":[{"stack":"v","groupby":[],"sort":[{"field":"side","order":"descending"}],"as":["v0","v1"]}],"mark":{"type":"rect"},
  "encoding":{"x":{"datum":75.52,"type":"quantitative","scale":{"domain":[-2.905,396.27],"nice":false,"zero":false},"axis":null},"x2":{"datum":99.59},"y":{"field":"v0","type":"quantitative","scale":{"domain":[-3.918,226.54],"nice":false,"zero":false},"axis":null},"y2":{"field":"v1"},
   "fill":{"condition":{"test":"datum.side == 'Buy'","value":"#008000"},"value":"#cd5c5c"}}},
 {"data":{"name":"press"},"transform":[{"stack":"v","groupby":[],"sort":[{"field":"side","order":"descending"}],"as":["v0","v1"]},{"filter":"datum.side == 'Sell'"}],"mark":{"type":"rule","stroke":"#000000","strokeWidth":8},
  "encoding":{"x":{"datum":75.52,"type":"quantitative","scale":{"domain":[-2.905,396.27],"nice":false,"zero":false},"axis":null},"x2":{"datum":99.59},"y":{"field":"v1","type":"quantitative","scale":{"domain":[-3.918,226.54],"nice":false,"zero":false},"axis":null}}},
 {"data":{"name":"press"},"transform":[{"stack":"v","groupby":[],"sort":[{"field":"side","order":"descending"}],"as":["v0","v1"]},{"filter":"datum.side == 'Buy'"}],"mark":{"type":"text","dy":-12,"fontSize":12,"align":"center","baseline":"middle","color":"#ffffff"},
  "encoding":{"x":{"datum":87.55,"type":"quantitative","scale":{"domain":[-2.905,396.27],"nice":false,"zero":false},"axis":null},"y":{"field":"v0","type":"quantitative","scale":{"domain":[-3.918,226.54],"nice":false,"zero":false},"axis":null},"text":{"field":"v","type":"quantitative"}}},
 {"data":{"name":"press"},"transform":[{"stack":"v","groupby":[],"sort":[{"field":"side","order":"descending"}],"as":["v0","v1"]},{"filter":"datum.side == 'Sell'"}],"mark":{"type":"text","dy":13,"fontSize":12,"align":"center","baseline":"middle","color":"#f6e6e6"},
  "encoding":{"x":{"datum":87.55,"type":"quantitative","scale":{"domain":[-2.905,396.27],"nice":false,"zero":false},"axis":null},"y":{"field":"v1","type":"quantitative","scale":{"domain":[-3.918,226.54],"nice":false,"zero":false},"axis":null},"text":{"field":"v","type":"quantitative"}}}
]}
]
}
